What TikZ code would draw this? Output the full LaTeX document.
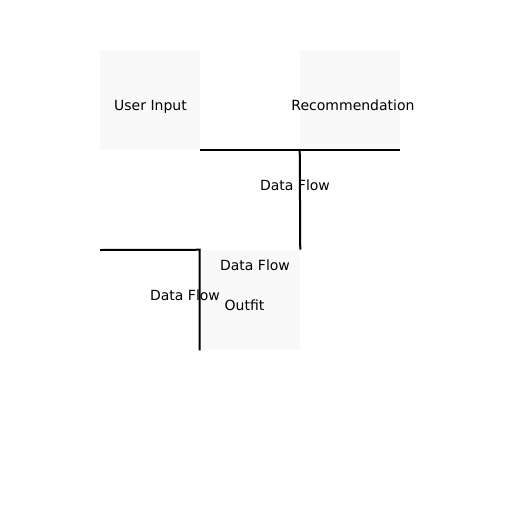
\documentclass[tikz,border=0pt]{standalone}
\usepackage{fontspec}
\setmainfont{DejaVu Sans}
\usetikzlibrary{positioning}
\definecolor{boxgray}{HTML}{F9F9F9}
\tikzstyle{block} = [fill=boxgray, rectangle, inner sep=0pt,
    minimum height=75pt, minimum width=75pt]
\tikzstyle{flow} = [line width=1.5pt]
\tikzstyle{txt} = [anchor=base, inner sep=0pt, font=\fontsize{10.5}{12}\selectfont]

\begin{document}
\begin{tikzpicture}[x=0.75pt,y=-0.75pt]
\useasboundingbox (0,0) rectangle (512,512);
 \coordinate (U) at (150,100);
 \coordinate (R) at (350,100);
 \coordinate (O) at (250,300);
 \coordinate (in) at (100,250);

\node[block, name=ui] at (U) {};
\node[block, name=rec] at (R) {};
\node[block, name=out] at (O) {};

\draw[flow] (ui.south east) -- (rec.south east);
\draw[flow] (rec.south west) -- (out.north east);
\draw[flow] (in) -- (out.north west) -- (out.south west);

\node[txt, name=uitext] at (150.5,110)  {User Input};
\node[txt, name=rectext] at (353,110)  {Recommendation};
\node[txt, name=outtext] at (244.5,310)  {Outfit};
\node[txt, name=flowa] at (295,190)  {Data Flow};
\node[txt, name=flowb] at (255,270)  {Data Flow};
\node[txt, name=flowc] at (185,300)  {Data Flow};

\end{tikzpicture}
\end{document}
